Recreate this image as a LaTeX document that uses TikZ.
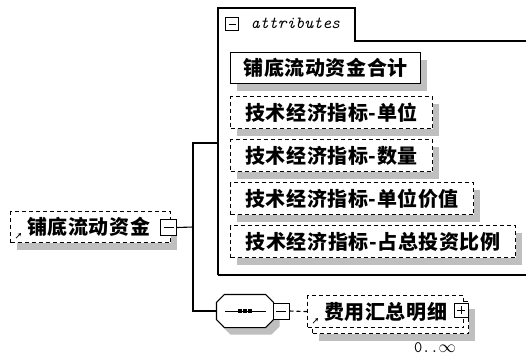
\documentclass[tikz,border=0pt]{standalone}
\usepackage{fontspec}
\newfontfamily\cjk{Noto Sans CJK SC}[LetterSpace=3]
\usetikzlibrary{shadows,arrows.meta}

\tikzset{
  box/.style={draw, fill=white, dash pattern=on 4pt off 3pt, minimum height=32,
    anchor=north west, inner sep=0pt, font=\cjk\bfseries\fontsize{20}{20}\selectfont},
  shade/.style={drop shadow={shadow xshift=6pt, shadow yshift=-7pt, fill=black!25, opacity=1}},
  elem/.style={box, shade},
  toggle/.style={draw, solid, fill=white, minimum size=15, inner sep=0pt, line width=1pt,
    path picture={\draw[line width=1pt] ([xshift=3pt]path picture bounding box.west)
      -- ([xshift=-3pt]path picture bounding box.east);}},
  expand/.style={toggle, path picture={
      \draw[line width=1pt] ([xshift=3pt]path picture bounding box.west)
        -- ([xshift=-3pt]path picture bounding box.east);
      \draw[line width=1pt] ([yshift=3pt]path picture bounding box.south)
        -- ([yshift=-3pt]path picture bounding box.north);}},
  seqbox/.style={minimum width=56, minimum height=32, inner sep=0pt},
  refarrow/.style={solid, line width=0.8pt, -{Stealth[length=3pt,width=3.5pt]}}
}

\begin{document}
\begin{tikzpicture}[x=1pt,y=-1pt,line width=1.1pt]
\useasboundingbox (0,0) rectangle (526,356);

% attributes frame
\draw (218,275) -- (218,8) -- (355,8) -- (355,41) -- (526,41);
\draw (218,275) -- (526,275);
\node[toggle, minimum size=13] (attrminus) at (232,24) {};
\node[anchor=west, font=\ttfamily\itshape\fontsize{17}{17}\selectfont] (attrlabel) at (247,23) {attributes};
\coordinate (attrin) at (218,143);

\node[elem, solid, minimum width=190, minimum height=31] (a1) at (230,52) {铺底流动资金合计};
\node[elem, minimum width=202] (a2) at (230,96) {技术经济指标-单位};
\node[elem, minimum width=202] (a3) at (230,139) {技术经济指标-数量};
\node[elem, minimum width=243] (a4) at (230,182) {技术经济指标-单位价值};
\node[elem, minimum width=285] (a5) at (230,225) {技术经济指标-占总投资比例};

% root element
\node[elem, minimum width=160, minimum height=31] (root) at (10,211) {\hspace*{-4pt}铺底流动资金};
\draw[refarrow] ([shift={(6,-5)}]root.south west) -- +(5,-5);
\node[toggle, minimum size=16] (rootminus) at (168.5,227.5) {};
\coordinate (bus) at (193,227);

% sequence
\node[seqbox] (seq) at (245,311) {};
\draw[fill=white, shade] ([xshift=8pt]seq.north west) -- ([xshift=-8pt]seq.north east)
  -- ([yshift=-8pt]seq.north east) -- ([yshift=8pt]seq.south east)
  -- ([xshift=-8pt]seq.south east) -- ([xshift=8pt]seq.south west)
  -- ([yshift=8pt]seq.south west) -- ([yshift=-8pt]seq.north west) -- cycle;
\draw[line width=1pt] ([xshift=9pt]seq.west) -- ([xshift=-8pt]seq.east);
\foreach \i in {-5,0,5}
  \fill ([xshift=\i pt]seq.center) +(-2,-2) rectangle +(2,2);
\node[toggle, minimum size=16] (seqminus) at (281,311) {};

% child element
\node[elem, minimum width=156] (childback) at (312,301) {};
\node[box, minimum width=156] (child) at (307,295) {费用汇总明细};
\draw[refarrow] ([shift={(6,-5)}]child.south west) -- +(5,-5);
\node[expand, minimum size=14] (childplus) at (461,310) {};
\node[font=\ttfamily\fontsize{16}{16}\selectfont] (occ) at (435,348) {0..$\infty$};

% connectors
\draw (rootminus.east) -- (bus);
\draw (attrin) -| (bus) |- (seq.west);
\draw[dash pattern=on 4pt off 3pt] (seqminus.east) -- (child.west);
\end{tikzpicture}
\end{document}
